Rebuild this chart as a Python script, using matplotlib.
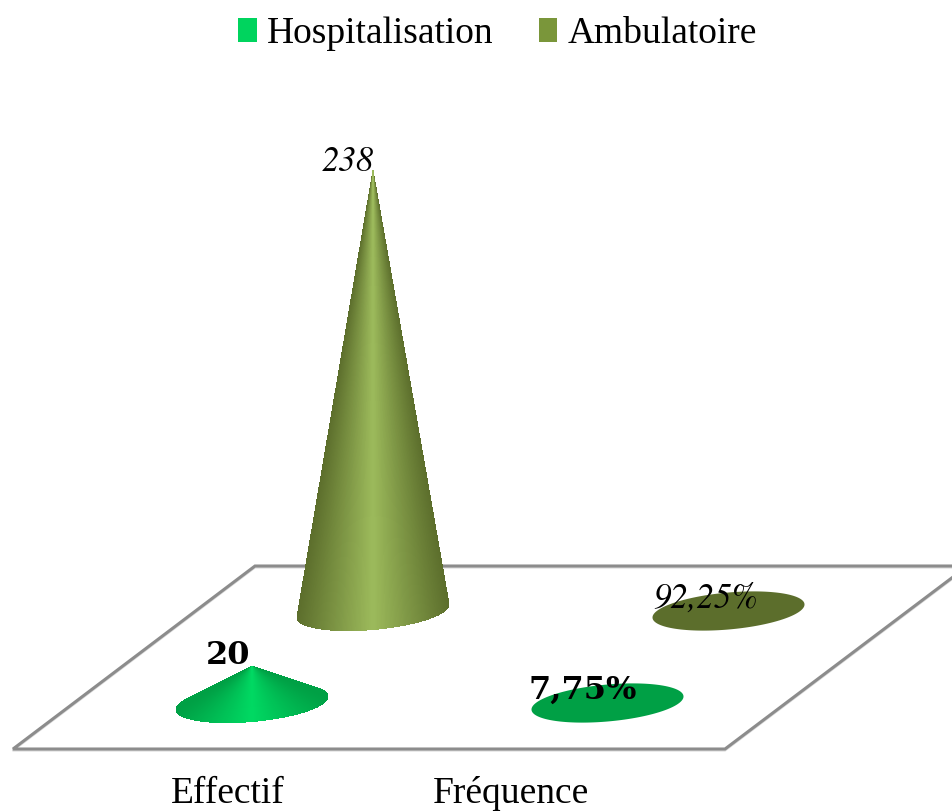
import numpy as np
import matplotlib
matplotlib.use("Agg")
import matplotlib.pyplot as plt
from matplotlib.legend_handler import HandlerPatch
from matplotlib.patches import Patch, Polygon
from matplotlib.colors import to_rgb

categories = ["Effectif", "Fréquence"]
series_names = ["Hospitalisation", "Ambulatoire"]
hospitalisation = [20, 0.0775]
ambulatoire = [238, 0.9225]
hospitalisation_labels = ["20", "7,75%"]
ambulatoire_labels = ["238", "92,25%"]

SERIF = "Liberation Serif"
ITALIC_DIGITS = dict(family="STIXGeneral", style="italic")
BOLD_DIGITS = dict(family="DejaVu Serif", weight="bold")

fig = plt.figure(figsize=(9.53, 8.12), dpi=100, facecolor="white")
ax = fig.add_axes([0, 0, 1, 1])
ax.set_xlim(0, 953)
ax.set_ylim(812, 0)
ax.axis("off")

# Oblique projection of the chart's three axes onto the page
ORIGIN = np.array([252.0, 704.0])
CATEGORY_STEP = np.array([355.5, 0.0])
DEPTH_STEP = np.array([121.0, -92.0])
UNITS_TO_PX = 1.85
BASE_A, BASE_B, BASE_TILT = 76.0, 18.5, 6.5


def project(cat, depth, value=0.0):
    return ORIGIN + cat * CATEGORY_STEP + depth * DEPTH_STEP + np.array([0.0, -value * UNITS_TO_PX])


def rim(base, t):
    return base + np.array([BASE_A * np.cos(t), BASE_B * np.sin(t) - BASE_TILT * np.cos(t)])


def draw_cone(cat, depth, value, edge, centre, flat):
    base = project(cat, depth)
    apex = project(cat, depth, value)
    edge, centre, flat = map(lambda c: np.array(to_rgb(c)), (edge, centre, flat))
    if value * UNITS_TO_PX < 2:
        t = np.linspace(0, 2 * np.pi, 240)
        pts = np.array([rim(base, a) for a in t])
        ax.add_patch(Polygon(pts, closed=True, facecolor=flat, edgecolor="none", zorder=3))
        return
    n = 360
    angles = np.linspace(0, 2 * np.pi, n + 1)
    order = np.argsort(np.sin(angles[:-1]))
    for i in order:
        t0, t1 = angles[i], angles[i + 1]
        # Brightest facing the viewer, falling off towards the silhouette
        mix = 1 - abs(np.cos(0.5 * (t0 + t1)))
        col = edge + (centre - edge) * mix
        ax.add_patch(Polygon([apex, rim(base, t0), rim(base, t1)], closed=True, facecolor=col,
                             edgecolor="none", linewidth=0, antialiased=False, zorder=3))


# Floor outline
floor_x = [953, 725, 13, 255, 953]
floor_y = [578, 750, 750, 567, 567]
ax.plot(floor_x, [y + 1.5 for y in floor_y], color="#d9d9d9", lw=1.5, zorder=1)
ax.plot(floor_x, floor_y, color="#8c8c8c", lw=2.2, zorder=2, solid_joinstyle="miter")

# Back row first so the front row overlaps it
for c, v in enumerate(ambulatoire):
    draw_cone(c, 1, v, "#5c6e2c", "#9cba5b", "#5c6e2c")
for c, v in enumerate(hospitalisation):
    draw_cone(c, 0, v, "#00a045", "#00d862", "#00a045")

# Data labels
label_kw = dict(ha="center", va="center", color="black", zorder=5)
ax.text(348, 162, ambulatoire_labels[0], fontsize=25, **ITALIC_DIGITS, **label_kw)
ax.text(705, 599, ambulatoire_labels[1], fontsize=25, **ITALIC_DIGITS, **label_kw)
ax.text(228, 656, hospitalisation_labels[0], fontsize=23, **BOLD_DIGITS, **label_kw)
ax.text(583, 690, hospitalisation_labels[1], fontsize=23, **BOLD_DIGITS, **label_kw)

# Category labels
ax.text(228, 803, categories[0], family=SERIF, fontsize=27, ha="center", va="baseline")
ax.text(511, 803, categories[1], family=SERIF, fontsize=27, ha="center", va="baseline")

# Legend
handles = [Patch(facecolor="#00d45e", edgecolor="none"), Patch(facecolor="#7a963a", edgecolor="none")]
ax.legend(handles, series_names, loc="center", bbox_to_anchor=(497.5, 34), bbox_transform=ax.transData,
          ncol=2, frameon=False, prop={"family": SERIF, "size": 27},
          handlelength=0.5, handleheight=0.5, handletextpad=0.27, columnspacing=1.2,
          borderpad=0, borderaxespad=0, handler_map={Patch: HandlerPatch(ypad=-0.06)})

fig.savefig("out.png", dpi=100, facecolor="white")
